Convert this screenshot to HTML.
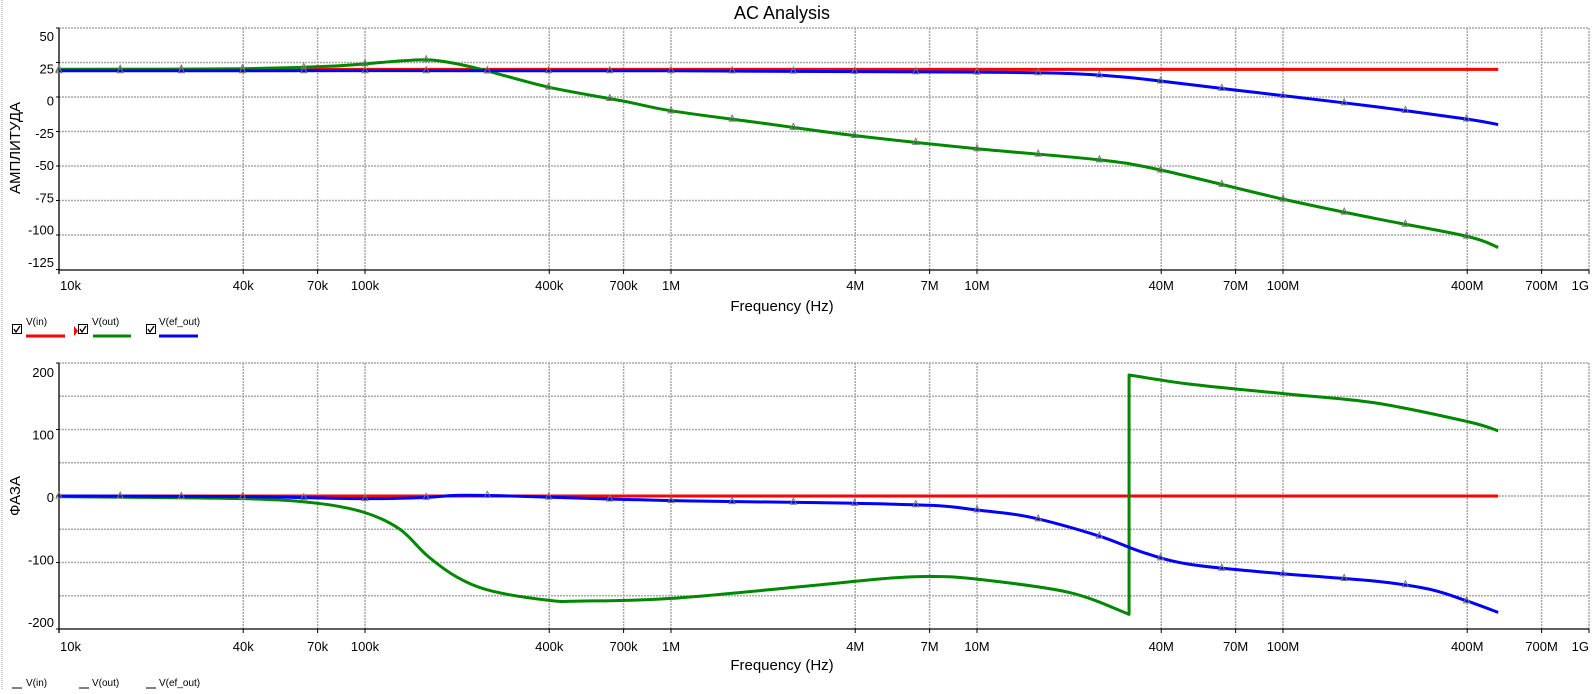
<!DOCTYPE html>
<html><head><meta charset="utf-8"><style>
html,body{margin:0;padding:0;background:#fff;}
svg text{font-family:"Liberation Sans",sans-serif;fill:#000;}
</style></head><body>
<svg id="s" width="1596" height="689" xmlns="http://www.w3.org/2000/svg">
<line x1="2" y1="0" x2="2" y2="689" stroke="#ccc" stroke-width="2" stroke-dasharray="1 1"/>
<text x="782" y="19" font-size="18" text-anchor="middle">AC Analysis</text>
<text x="782" y="311" font-size="15" text-anchor="middle">Frequency (Hz)</text>
<text x="782" y="670" font-size="15" text-anchor="middle">Frequency (Hz)</text>
<text transform="translate(20,148) rotate(-90)" font-size="15" text-anchor="middle">АМПЛИТУДА</text>
<text transform="translate(20,496) rotate(-90)" font-size="15" text-anchor="middle">ФАЗА</text>
<g font-size="10">
<rect x="12.5" y="324.5" width="9" height="9" fill="#fff" stroke="#000"/><path d="M14 329 l2 3 l4 -6" stroke="#000" fill="none" stroke-width="1.3"/>
<text x="26" y="325">V(in)</text><line x1="26" y1="336" x2="65" y2="336" stroke="#f00" stroke-width="3"/>
<path d="M74 326 l4 5 l-4 5z" fill="#f00"/>
<rect x="78.5" y="324.5" width="9" height="9" fill="#fff" stroke="#000"/><path d="M80 329 l2 3 l4 -6" stroke="#000" fill="none" stroke-width="1.3"/>
<text x="92" y="325">V(out)</text><line x1="93" y1="336" x2="131" y2="336" stroke="#080" stroke-width="3"/>
<rect x="146.5" y="324.5" width="9" height="9" fill="#fff" stroke="#000"/><path d="M148 329 l2 3 l4 -6" stroke="#000" fill="none" stroke-width="1.3"/>
<text x="159" y="325">V(ef_out)</text><line x1="159" y1="336" x2="198" y2="336" stroke="#00f" stroke-width="3"/>
<line x1="12" y1="688" x2="22" y2="688" stroke="#000"/><text x="26" y="686">V(in)</text>
<line x1="79" y1="688" x2="89" y2="688" stroke="#000"/><text x="92" y="686">V(out)</text>
<line x1="146" y1="688" x2="156" y2="688" stroke="#000"/><text x="159" y="686">V(ef_out)</text>
</g>
<g id="g"></g>
</svg>
<script>
var NS="http://www.w3.org/2000/svg",G=document.getElementById("g");
function el(t,a,txt){var e=document.createElementNS(NS,t);for(var k in a)e.setAttribute(k,a[k]);if(txt!=null)e.textContent=txt;G.appendChild(e);return e;}
var X0=59,DEC=306,XR=1589;
function fx(f){return X0+DEC*Math.log10(f/1e4);}
var ticks=[[1e4,"10k"],[4e4,"40k"],[7e4,"70k"],[1e5,"100k"],[4e5,"400k"],[7e5,"700k"],[1e6,"1M"],[4e6,"4M"],[7e6,"7M"],[1e7,"10M"],[4e7,"40M"],[7e7,"70M"],[1e8,"100M"],[4e8,"400M"],[7e8,"700M"],[1e9,"1G"]];
function plot(top,bot,v2y,hvals,ylabels,lab2y,lblY,series){
  hvals.forEach(function(v){var y=v2y(v);el("line",{x1:X0,y1:y,x2:XR,y2:y,stroke:"#a8a8a8","stroke-width":1.5,"stroke-dasharray":"2 1"});});
  ticks.forEach(function(t){var x=fx(t[0]);if(t[0]>1e4){el("line",{x1:x,y1:top,x2:x,y2:bot,stroke:"#a8a8a8","stroke-width":1.5,"stroke-dasharray":"2 1"});}
    el("line",{x1:x,y1:bot,x2:x,y2:bot+4,stroke:"#000"});
    var anc=t[0]==1e4?"start":(t[0]==1e9?"end":"middle");
    el("text",{x:t[0]==1e4?x+1:x,y:lblY,"font-size":13,"text-anchor":anc},t[1]);});
  ylabels.forEach(function(v){var y=lab2y(v);el("text",{x:54,y:y+5,"font-size":13,"text-anchor":"end"},String(v));el("line",{x1:56,y1:v2y(v),x2:59,y2:v2y(v),stroke:"#000"});});
  el("line",{x1:X0,y1:top,x2:X0,y2:bot+4,stroke:"#000","stroke-width":1.3});
  el("line",{x1:X0,y1:bot,x2:XR,y2:bot,stroke:"#000","stroke-width":1.3});
  series.forEach(function(s){
    var p=s.pts.map(function(q){return [fx(q[0]),v2y(q[1])];});
    var d="M"+p[0][0]+" "+p[0][1];
    for(var i=0;i<p.length-1;i++){
      if(s.jump===i){d+=" L"+p[i+1][0]+" "+p[i+1][1];continue;}
      var a=(i>0&&s.jump!==i-1)?p[i-1]:p[i],b=p[i],c=p[i+1],e=(p[i+2]&&s.jump!==i+1)?p[i+2]:p[i+1];
      d+=" C"+(b[0]+(c[0]-a[0])/6)+" "+(b[1]+(c[1]-a[1])/6)+" "+(c[0]-(e[0]-b[0])/6)+" "+(c[1]-(e[1]-b[1])/6)+" "+c[0]+" "+c[1];
    }
    var path=el("path",{d:d,fill:"none",stroke:s.c,"stroke-width":3,"stroke-linejoin":"round"});
    if(s.mk){
      var L=path.getTotalLength(),pts=[];
      for(var l=0;l<=L;l+=1){var q=path.getPointAtLength(l);pts.push(q);}
      for(var k=0;k<=23;k++){
        var X=X0+k*DEC/5; if(X>1498)break;
        var best=null;for(var j=0;j<pts.length;j++){if(Math.abs(pts[j].x-X)<0.8){best=pts[j];break;}}
        if(best)el("path",{d:"M"+(X-3)+" "+(best.y+2)+" L"+X+" "+(best.y-4)+" L"+(X+3)+" "+(best.y+2)+"Z",fill:"none",stroke:"#777","stroke-width":1});
      }
    }
  });
}
var F=5.05e8;
plot(28,270,function(v){return 97-(v)*34.5/25;},[50,25,0,-25,-50,-75,-100],[50,25,0,-25,-50,-75,-100,-125],function(v){return 36+(50-v)/175*226;},290,[
 {c:"#f00",pts:[[1e4,20],[F,20]]},
 {c:"#080",mk:1,pts:[[1e4,20],[4e4,20.5],[8e4,22.5],[1.2e5,25.5],[1.6e5,27],[2e5,24],[2.5e5,19],[4e5,7],[7e5,-3],[1e6,-10],[2e6,-19],[4e6,-28],[1e7,-37.5],[2.5e7,-45.5],[4e7,-53],[1e8,-74],[2e8,-88],[4e8,-101],[F,-109]]},
 {c:"#00f",mk:1,pts:[[1e4,19],[1e6,19],[1e7,18],[2e7,17],[3e7,14.5],[4e7,11.5],[7e7,5],[1e8,1],[2e8,-7],[4e8,-16],[F,-20]]}
]);
plot(363,629,function(v){return 496-v*0.665;},[200,150,100,50,0,-50,-100,-150],[200,100,0,-100,-200],function(v){return 372+(200-v)/400*250;},651,[
 {c:"#f00",pts:[[1e4,0],[F,0]]},
 {c:"#080",jump:16,pts:[[1e4,-1],[4e4,-4],[7e4,-11],[1e5,-25],[1.3e5,-50],[1.6e5,-90],[2e5,-122],[2.6e5,-143],[4e5,-157],[5e5,-158],[1e6,-154],[3e6,-134],[5e6,-124],[7e6,-121],[1e7,-125],[2e7,-145],[3.14e7,-178],[3.14e7,182],[5e7,168],[1e8,154],[2e8,140],[4e8,112],[F,98]]},
 {c:"#00f",mk:1,pts:[[1e4,0],[4e4,-1],[1e5,-4],[1.6e5,-2],[2e5,1],[3e5,0],[1e6,-7],[3e6,-10],[7e6,-14],[1e7,-21],[1.5e7,-32],[2.5e7,-60],[3.5e7,-85],[5e7,-103],[1e8,-117],[2e8,-128],[3e8,-140],[4e8,-158],[F,-175]]}
]);
</script>
</body></html>
